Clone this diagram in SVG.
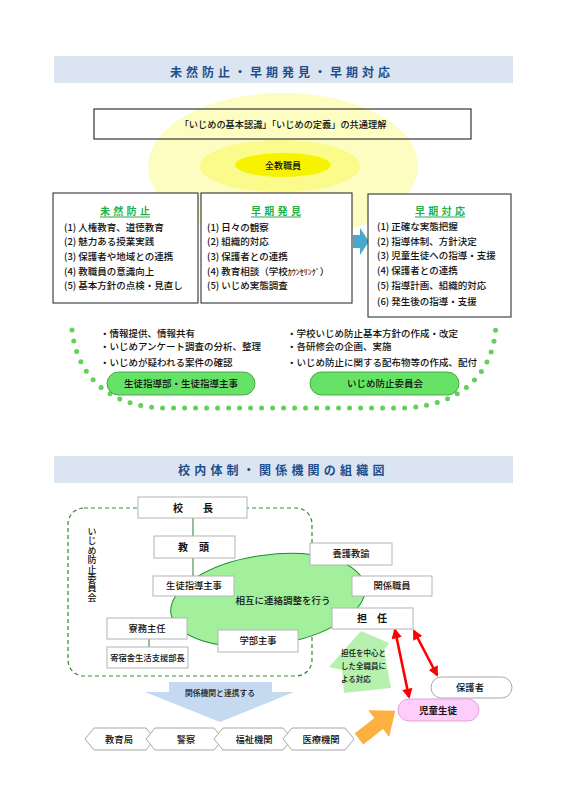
<svg xmlns="http://www.w3.org/2000/svg" width="566" height="800" viewBox="0 0 566 800">
<defs>
<style>
text{font-family:"Noto Sans CJK JP","Noto Sans",sans-serif;fill:#111}
.hdr{fill:#dbe5f1}
.ttl{font-size:12px;font-weight:bold;fill:#1f4e8c;letter-spacing:4px}
.bx{fill:#fff;stroke:#444;stroke-width:1.2}
.it{font-size:9.5px;font-weight:500}
.st{font-size:10px;font-weight:bold;fill:#1fb04a;letter-spacing:3.3px}
.ul{stroke:#1fb04a;stroke-width:1}
.pill{fill:#66e366;stroke:#3f8f3f;stroke-width:0.8}
.pt{font-size:9.5px;text-anchor:middle;font-weight:500}
.gb{fill:#fff;stroke:#b4b4b4;stroke-width:1}
.t9{font-size:9.3px;text-anchor:middle;font-weight:500}
.b10{font-size:10px;font-weight:bold}
.hex{fill:#fff;stroke:#a8a8a8;stroke-width:1}
.red{stroke:#ff0000;stroke-width:2.6;fill:none;marker-start:url(#ra);marker-end:url(#ra)}
.vt{font-size:9px;font-weight:500;writing-mode:vertical-rl;text-orientation:upright;letter-spacing:0.4px}
</style>
<marker id="ra" viewBox="0 0 10 10" refX="8" refY="5" markerWidth="4" markerHeight="4" orient="auto-start-reverse"><path d="M0 0 L10 5 L0 10 z" fill="#ff0000"/></marker>
</defs>
<rect width="566" height="800" fill="#fff"/>

<!-- Section 1 header -->
<g id="header1">
<rect class="hdr" x="54" y="56" width="459" height="27"/>
<text class="ttl" x="170" y="76.5">未然防止・早期発見・早期対応</text>
</g>

<!-- yellow glow -->
<g id="glow">
<ellipse cx="283" cy="166" rx="135" ry="73" fill="#fdfdc2"/>
<ellipse cx="280" cy="166" rx="80" ry="26" fill="#fbfb8c"/>
<ellipse cx="283" cy="165" rx="48" ry="12" fill="#f6f200"/>
<text x="283" y="168.5" font-size="9" text-anchor="middle" font-weight="500">全教職員</text>
</g>

<g id="common">
<rect x="94" y="109" width="377" height="30" fill="none" stroke="#444" stroke-width="1.3"/>
<text x="283" y="127.5" font-size="9.2" text-anchor="middle" font-weight="500">「いじめの基本認識」「いじめの定義」の共通理解</text>
</g>

<g id="prevention">
<rect class="bx" x="53" y="193" width="145" height="110"/>
<text class="st" x="100" y="214.5">未然防止</text>
<line class="ul" x1="100" y1="217" x2="150" y2="217"/>
<text class="it" x="64" y="230.8">(1) 人権教育、道徳教育</text>
<text class="it" x="64" y="245.4">(2) 魅力ある授業実践</text>
<text class="it" x="64" y="260">(3) 保護者や地域との連携</text>
<text class="it" x="64" y="274.6">(4) 教職員の意識向上</text>
<text class="it" x="64" y="289.2">(5) 基本方針の点検・見直し</text>
</g>

<g id="detection">
<rect class="bx" x="201" y="193" width="151" height="110"/>
<text class="st" x="251" y="214.5">早期発見</text>
<line class="ul" x1="251" y1="217" x2="301" y2="217"/>
<text class="it" x="207" y="230.8">(1) 日々の観察</text>
<text class="it" x="207" y="245.4">(2) 組織的対応</text>
<text class="it" x="207" y="260">(3) 保護者との連携</text>
<text class="it" x="207" y="274.6">(4) 教育相談（学校<tspan font-size="8">ｶｳﾝｾﾘﾝｸﾞ</tspan>）</text>
<text class="it" x="207" y="289.2">(5) いじめ実態調査</text>
</g>

<g id="connectors1">
<path d="M353 235 L360 235 L360 228 L369 241.5 L360 255 L360 248 L353 248 Z" fill="#4aa8cc"/>
<path d="M72 330 C78 385 120 408 165 408 L405 408 C460 405 495 375 496 322" fill="none" stroke="#62d05a" stroke-width="5" stroke-linecap="round" stroke-dasharray="0 11"/>
</g>

<g id="response">
<rect class="bx" x="368" y="194" width="143" height="123"/>
<text class="st" x="415" y="214.5">早期対応</text>
<line class="ul" x1="415" y1="217" x2="465" y2="217"/>
<text class="it" x="377" y="229.8">(1) 正確な実態把握</text>
<text class="it" x="377" y="244.6">(2) 指導体制、方針決定</text>
<text class="it" x="377" y="259.4">(3) 児童生徒への指導・支援</text>
<text class="it" x="377" y="274.2">(4) 保護者との連携</text>
<text class="it" x="377" y="289">(5) 指導計画、組織的対応</text>
<text class="it" x="377" y="304.6">(6) 発生後の指導・支援</text>
</g>

<g id="bullets">
<text class="it" x="100" y="336.5">・情報提供、情報共有</text>
<text class="it" x="100" y="350">・いじめアンケート調査の分析、整理</text>
<text class="it" x="100" y="365.5">・いじめが疑われる案件の確認</text>
<text class="it" x="287" y="336.5">・学校いじめ防止基本方針の作成・改定</text>
<text class="it" x="287" y="350">・各研修会の企画、実施</text>
<text class="it" x="287" y="365.5">・いじめ防止に関する配布物等の作成、配付</text>
</g>

<g id="seito-pill">
<rect class="pill" x="107" y="372" width="148" height="23" rx="11.5"/>
<text class="pt" x="181" y="387">生徒指導部・生徒指導主事</text>
</g>
<g id="iinkai-pill">
<rect class="pill" x="310" y="372" width="149" height="23" rx="11.5"/>
<text class="pt" x="385" y="387">いじめ防止委員会</text>
</g>

<!-- Section 2 header -->
<g id="header2">
<rect class="hdr" x="54" y="456" width="459" height="27"/>
<text class="ttl" x="178" y="474.5" style="letter-spacing:4.2px">校内体制・関係機関の組織図</text>
</g>

<g id="committee">
<rect x="68" y="508" width="244" height="168" rx="16" fill="none" stroke="#2e8b2e" stroke-width="1.2" stroke-dasharray="4 3"/>
<text class="vt" x="92" y="527">いじめ防止委員会</text>
</g>

<g id="connectors2">
<line x1="193" y1="518" x2="193" y2="576" stroke="#2e7d2e" stroke-width="1"/>
<line x1="149" y1="639" x2="149" y2="647" stroke="#2e7d2e" stroke-width="1"/>
<line class="red" x1="395" y1="630" x2="409" y2="697"/>
<line class="red" x1="414" y1="631" x2="437" y2="675"/>
<path d="M169 682 L272 682 L272 692 L294 692 L220 722 L145 692 L169 692 Z" fill="#c5d9f1"/>
<text x="220" y="696" font-size="7.8" text-anchor="middle" fill="#333" font-weight="500">関係機関と連携する</text>
<path d="M0 -7 L25 -7 L25 -17 L46 0 L25 17 L25 7 L0 7 Z" fill="#fbb040" transform="translate(359 739) rotate(-38)"/>
</g>

<g id="mutual">
<ellipse cx="268" cy="600" rx="98" ry="45" fill="#a3f09c" stroke="#1a8a2a" stroke-width="1" transform="rotate(-8 268 600)"/>
<text x="283" y="603.5" font-size="9.5" text-anchor="middle" font-weight="500">相互に連絡調整を行う</text>
</g>

<g id="kocho">
<rect class="gb" x="138" y="497" width="109" height="21"/>
<text class="b10" x="173" y="511.5" style="letter-spacing:5px">校　長</text>
</g>
<g id="kyoto">
<rect class="gb" x="154" y="536" width="81" height="22"/>
<text class="b10" x="178" y="550.5" style="letter-spacing:0.5px">教　頭</text>
</g>
<g id="yogo">
<rect class="gb" x="310" y="543" width="82" height="22"/>
<text class="t9" x="351" y="557.3">養護教諭</text>
</g>
<g id="seito-shuji">
<rect class="gb" x="153" y="576" width="81" height="20"/>
<text class="t9" x="194" y="589.3">生徒指導主事</text>
</g>
<g id="kankei">
<rect class="gb" x="352" y="576" width="80" height="20"/>
<text class="t9" x="392" y="589.3">関係職員</text>
</g>
<g id="tannin">
<rect class="gb" x="332" y="608" width="81" height="21"/>
<text class="b10" x="357" y="622">担　任</text>
</g>
<g id="ryomu">
<rect class="gb" x="107" y="618" width="80" height="21"/>
<text class="t9" x="147" y="631.8">寮務主任</text>
</g>
<g id="kishukusha">
<rect class="gb" x="107" y="647" width="81" height="21"/>
<text x="147.5" y="660.5" font-size="8.3" text-anchor="middle" font-weight="500">寄宿舎生活支援部長</text>
</g>
<g id="gakubu">
<rect class="gb" x="218" y="630" width="80" height="22"/>
<text class="t9" x="258" y="644.3">学部主事</text>
</g>

<g id="all-staff">
<polygon points="361,631 389,643 384,650 391,688 344,693 342,670 329,667" fill="#b6f2ae"/>
<text x="341" y="655.5" font-size="7.5" font-weight="500">担任を中心と</text>
<text x="341" y="668.5" font-size="7.5" font-weight="500">した全職員に</text>
<text x="341" y="681.5" font-size="7.5" font-weight="500">よる対応</text>
</g>

<g id="hogosha">
<rect x="431" y="677" width="81" height="21" rx="10.5" fill="#fff" stroke="#a8a8a8"/>
<text class="t9" x="470" y="691">保護者</text>
</g>
<g id="jido">
<rect x="398" y="699" width="81" height="22" rx="11" fill="#ffcdfb" stroke="#e3a3dd"/>
<text x="438" y="713.5" font-size="9.5" text-anchor="middle" font-weight="bold" fill="#ff1010">児童生徒</text>
</g>

<g id="kyoikukyoku">
<polygon class="hex" points="85,739 94,728 146,728 155,739 146,750 94,750"/>
<text class="t9" x="119" y="742.5">教育局</text>
</g>
<g id="keisatsu">
<polygon class="hex" points="146,739 155,728 214,728 223,739 214,750 155,750"/>
<text class="t9" x="186" y="742.5">警察</text>
</g>
<g id="fukushi">
<polygon class="hex" points="214,739 223,728 283,728 292,739 283,750 223,750"/>
<text class="t9" x="254" y="742.5">福祉機関</text>
</g>
<g id="iryo">
<polygon class="hex" points="283,739 292,728 345,728 354,739 345,750 292,750"/>
<text class="t9" x="321" y="742.5">医療機関</text>
</g>
</svg>
